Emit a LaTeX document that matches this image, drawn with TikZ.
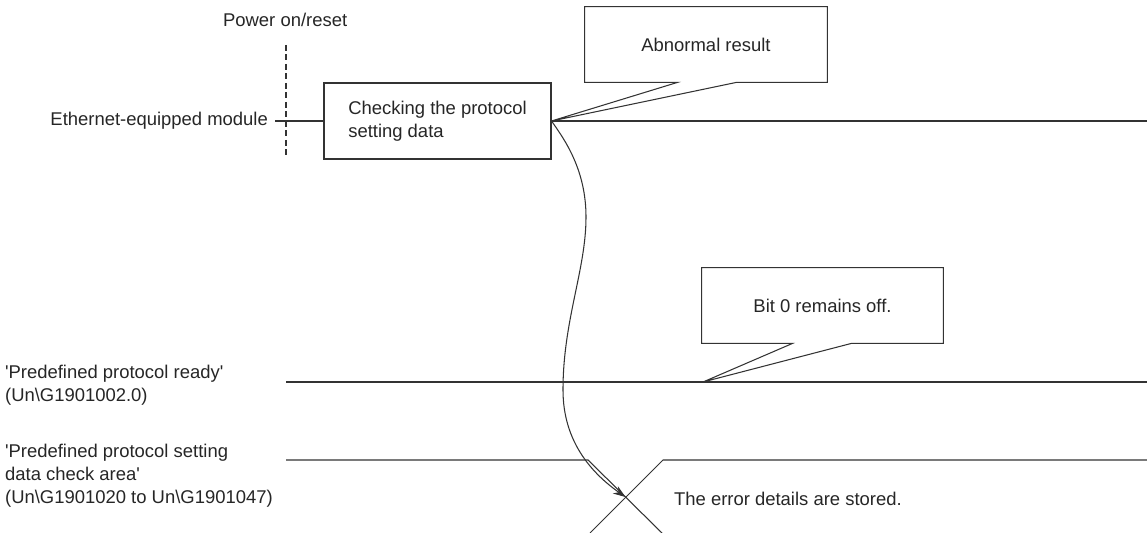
\documentclass[tikz,border=0pt]{standalone}
\usepackage{fontspec}
\setmainfont{Liberation Sans}
\usetikzlibrary{arrows.meta,calc}
\newcommand{\sq}{\textquotesingle}
\tikzset{
  lbl/.style={inner sep=1pt,font=\fontsize{10.5}{13}\selectfont,text=black!85},
  sig/.style={line width=0.6pt,draw=black!80},
  callout/.style={line width=0.6pt,draw=black!80,line join=miter},
}
\begin{document}
\begin{tikzpicture}[x=0.02cm,y=-0.02cm,>={Stealth[length=7pt,width=5pt]}]
\useasboundingbox (0,0) rectangle (1147,533);
% power on / reset marker
\node[lbl,anchor=west] (pwr) at (221,20) {Power on/reset};
\coordinate (rtop) at (286,45);
\coordinate (rbot) at (286,158);
\draw[sig,dash pattern=on 3.4pt off 2pt] (rtop)--(rbot);
% module row
\node[lbl,anchor=east] (eth) at (270,121) {Ethernet-equipped module};
\node[lbl,draw,sig,minimum width=4.54cm,minimum height=1.52cm,align=left] (chk) at (437.5,121) {Checking the protocol\\setting data};
\coordinate (ethend) at (1147,121);
\draw[sig] ($(eth.east)+(5,0)$)--(chk.west);
\draw[sig] (chk.east)--(ethend);
\node[lbl,minimum width=4.84cm,minimum height=1.5cm] (abn) at (706,44.5) {Abnormal result};
\draw[callout] (abn.north west)--(abn.north east)--(abn.south east)--($(abn.south west)+(152,0)$)
  --(chk.east)--($(abn.south west)+(93,0)$)--(abn.south west)--cycle;
% ready signal
\node[lbl,anchor=west,align=left] (rdy) at (3,385) {\sq Predefined protocol ready\sq\\(Un\textbackslash G1901002.0)};
\coordinate (r0) at (286,382);
\coordinate (r1) at (1147,382);
\coordinate (rtip) at (703,382);
\draw[sig] (r0)--(r1);
\node[lbl,minimum width=4.82cm,minimum height=1.5cm] (bit) at (822.5,305.5) {Bit 0 remains off.};
\draw[callout] (bit.north west)--(bit.north east)--(bit.south east)--($(bit.south west)+(150,0)$)
  --(rtip)--($(bit.south west)+(91,0)$)--(bit.south west)--cycle;
% check area
\node[lbl,anchor=west,align=left] (area) at (3,476) {\sq Predefined protocol setting\\data check area\sq\\(Un\textbackslash G1901020 to Un\textbackslash G1901047)};
\coordinate (c0) at (286,460);
\coordinate (c1) at (588,460);
\coordinate (c2) at (662,533);
\coordinate (c3) at (590,533);
\coordinate (c4) at (663,460);
\coordinate (c5) at (1147,460);
\coordinate (x0) at (625.5,497);
\draw[sig] (c0)--(c1)--(c2);
\draw[sig] (c3)--(c4)--(c5);
\node[lbl,anchor=west] (err) at (672,499) {The error details are stored.};
% result arrow
\draw[sig,->] (chk.east) .. controls (565,140) and (586,170) .. (586,217)
  .. controls (586,270) and (563,320) .. (563,390)
  .. controls (563,440) and (590,472) .. (x0);
\end{tikzpicture}
\end{document}
